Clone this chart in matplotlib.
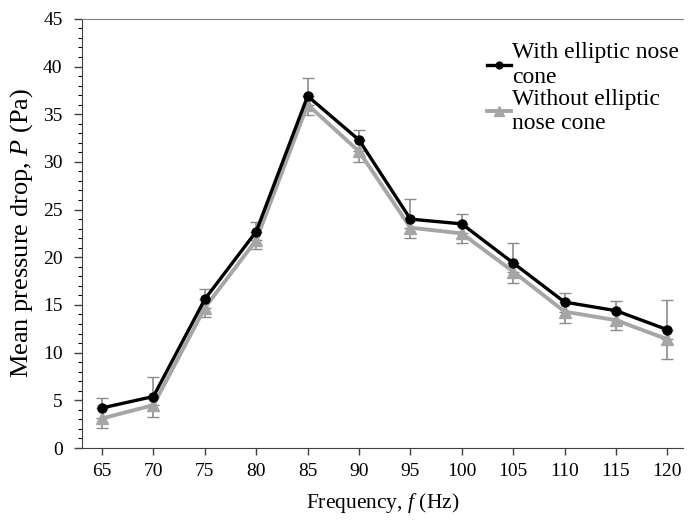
import numpy as np
import matplotlib
matplotlib.use('Agg')
from matplotlib import pyplot as plt
from matplotlib.ticker import MultipleLocator

plt.rcParams['font.family'] = ['Liberation Serif', 'DejaVu Serif']
plt.rcParams['mathtext.fontset'] = 'custom'
plt.rcParams['mathtext.it'] = 'Liberation Serif:italic'
plt.rcParams['mathtext.rm'] = 'Liberation Serif'

freq = ['65', '70', '75', '80', '85', '90', '95', '100', '105', '110', '115', '120']
with_cone = np.array([4.2, 5.4, 15.6, 22.7, 36.9, 32.3, 24.0, 23.5, 19.4, 15.3, 14.4, 12.4])
without_cone = np.array([3.1, 4.5, 14.7, 21.8, 36.0, 31.1, 23.1, 22.5, 18.5, 14.3, 13.4, 11.4])
with_err_up = np.array([1.0, 2.0, 1.1, 1.0, 1.9, 1.0, 2.1, 1.0, 2.1, 1.0, 1.0, 3.1])
without_err_down = np.array([1.0, 1.2, 1.0, 0.9, 1.1, 1.1, 1.1, 1.0, 1.2, 1.2, 1.0, 2.1])

x = np.arange(len(freq))

fig = plt.figure(figsize=(6.89, 5.23), dpi=100)
ax = fig.add_axes([0.119, 0.1434, 0.872, 0.8206])

black = '#000000'
grey = '#a6a6a6'
ecol = '#8c8c8c'

# one-sided error bars: plus for the black series, minus for the grey one
ax.errorbar(x, with_cone + with_err_up / 2, yerr=with_err_up / 2, fmt='none',
            ecolor=ecol, elinewidth=1.2, capsize=4, capthick=1.0, zorder=1)
ax.errorbar(x, without_cone - without_err_down / 2, yerr=without_err_down / 2, fmt='none',
            ecolor=ecol, elinewidth=1.2, capsize=4, capthick=1.0, zorder=1)

ax.plot(x, without_cone, '-^', color=grey, lw=2.8, ms=9, zorder=2,
        label='Without elliptic\nnose cone')
ax.plot(x, with_cone, '-o', color=black, lw=2.4, ms=6.5, zorder=3,
        label='With elliptic nose\ncone')

ax.set_xlim(-0.39, 11.3)
ax.set_ylim(0, 45)
ax.set_xticks(x)
ax.set_xticklabels(freq)
ax.yaxis.set_major_locator(MultipleLocator(5))
ax.yaxis.set_minor_locator(MultipleLocator(1))
ax.tick_params(axis='both', labelsize=14, direction='out', color='#404040')
ax.tick_params(axis='y', which='major', length=6, width=1, pad=8)
ax.tick_params(axis='y', which='minor', length=3, width=0.8)
ax.tick_params(axis='x', which='major', length=5, width=1, pad=6)

ax.spines['right'].set_visible(False)
ax.spines['top'].set_color('#808080')
ax.spines['left'].set_color('#404040')
ax.spines['bottom'].set_color('#404040')

ax.set_xlabel('Frequency, $f$ (Hz)', fontsize=15.5, labelpad=8)
ax.set_ylabel('Mean pressure drop, $P$ (Pa)', fontsize=19, labelpad=6)

h, l = ax.get_legend_handles_labels()
leg = ax.legend(h[::-1], l[::-1], loc='upper left', bbox_to_anchor=(0.659, 0.968),
                frameon=False, fontsize=17, handlelength=1.0, handletextpad=0.05,
                labelspacing=0.05, borderaxespad=0, markerscale=0.75)
for t in leg.get_texts():
    t.set_linespacing(1.22)

fig.savefig('out.png', dpi=100)
